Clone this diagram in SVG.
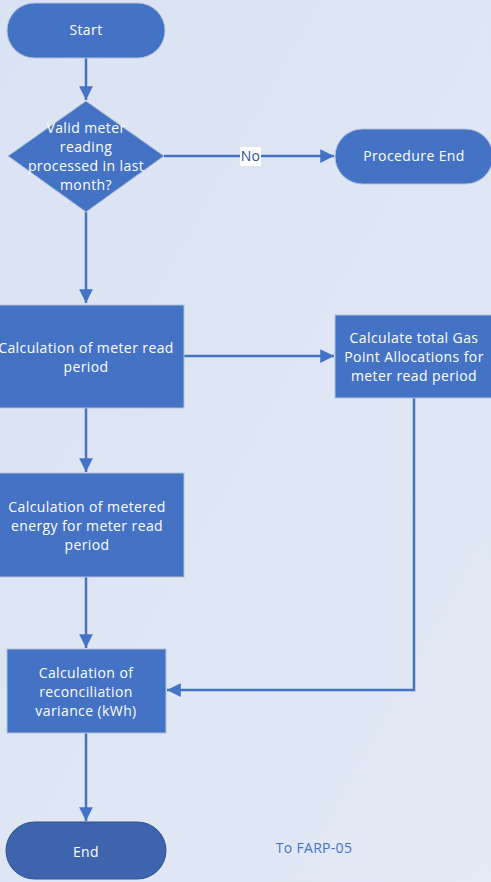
<svg xmlns="http://www.w3.org/2000/svg" width="491" height="882" viewBox="0 0 491 882">
<defs>
<linearGradient id="bg" x1="0" y1="0" x2="1" y2="1">
<stop offset="0" stop-color="#dae3f3"/>
<stop offset="1" stop-color="#e3e9f5"/>
</linearGradient>
<marker id="arr" viewBox="0 0 10 10" refX="10" refY="5" markerWidth="5.5" markerHeight="6" orient="auto" markerUnits="strokeWidth">
<path d="M0,0 L10,5 L0,10 z" fill="#4472c4"/>
</marker>
<style>
.n{fill:#4472c4;stroke:#b4c1d9;stroke-width:1}
.t{fill:#ffffff;font-family:"Open Sans","Liberation Sans",Arial,sans-serif;font-size:14px;letter-spacing:0.4px;text-anchor:middle}
.c{fill:none;stroke:#4472c4;stroke-width:2.5;marker-end:url(#arr)}
.c2{fill:none;stroke:#4472c4;stroke-width:2.5}
.l{font-family:"Open Sans","Liberation Sans",Arial,sans-serif;font-size:14px;letter-spacing:0.3px;text-anchor:middle}
</style>
</defs>
<rect x="0" y="0" width="491" height="882" fill="url(#bg)"/>
<g id="connectors">
<path class="c" d="M86,58 V100"/>
<path class="c2" d="M164,156 H240"/>
<path class="c" d="M261,156 H334"/>
<path class="c" d="M86,212 V303"/>
<path class="c" d="M184,356 H334"/>
<path class="c" d="M86,408 V472"/>
<path class="c" d="M86,577 V648"/>
<path class="c" d="M414,398 V690 H167"/>
<path class="c" d="M86,733 V821"/>
<rect x="240" y="147" width="21" height="19" fill="#ffffff"/>
<text class="l" x="250.5" y="161" fill="#2f4f8f">No</text>
</g>
<g id="start">
<rect class="n" x="7" y="3" width="158" height="55" rx="27.5"/>
<text class="t" x="86" y="35">Start</text>
</g>
<g id="decision">
<path class="n" d="M86,101 L164,156 L86,212 L8,156 Z"/>
<text class="t" x="86" y="133">Valid meter</text>
<text class="t" x="86" y="152">reading</text>
<text class="t" x="86" y="171">processed in last</text>
<text class="t" x="86" y="190">month?</text>
</g>
<g id="procedure-end">
<rect class="n" x="335" y="129" width="158" height="55" rx="27.5"/>
<text class="t" x="414" y="161">Procedure End</text>
</g>
<g id="meter-read-period">
<rect class="n" x="-12" y="305" width="196" height="103"/>
<text class="t" x="86" y="353">Calculation of meter read</text>
<text class="t" x="86" y="372">period</text>
</g>
<g id="gas-point-allocations">
<rect class="n" x="335" y="315" width="158" height="83"/>
<text class="t" x="414" y="343">Calculate total Gas</text>
<text class="t" x="414" y="362">Point Allocations for</text>
<text class="t" x="414" y="381">meter read period</text>
</g>
<g id="metered-energy">
<rect class="n" x="-12" y="473" width="196" height="104"/>
<text class="t" x="87" y="512">Calculation of metered</text>
<text class="t" x="87" y="531">energy for meter read</text>
<text class="t" x="87" y="550">period</text>
</g>
<g id="reconciliation-variance">
<rect class="n" x="7" y="649" width="159" height="84"/>
<text class="t" x="86" y="678">Calculation of</text>
<text class="t" x="86" y="697">reconciliation</text>
<text class="t" x="86" y="716">variance (kWh)</text>
</g>
<g id="end">
<rect x="6" y="822" width="160" height="57" rx="28.5" fill="#3d64ad" stroke="#2f528f" stroke-width="1"/>
<text class="t" x="86" y="857">End</text>
</g>
<g id="to-farp">
<text class="l" x="314" y="853" fill="#4472c4">To FARP-05</text>
</g>
</svg>
